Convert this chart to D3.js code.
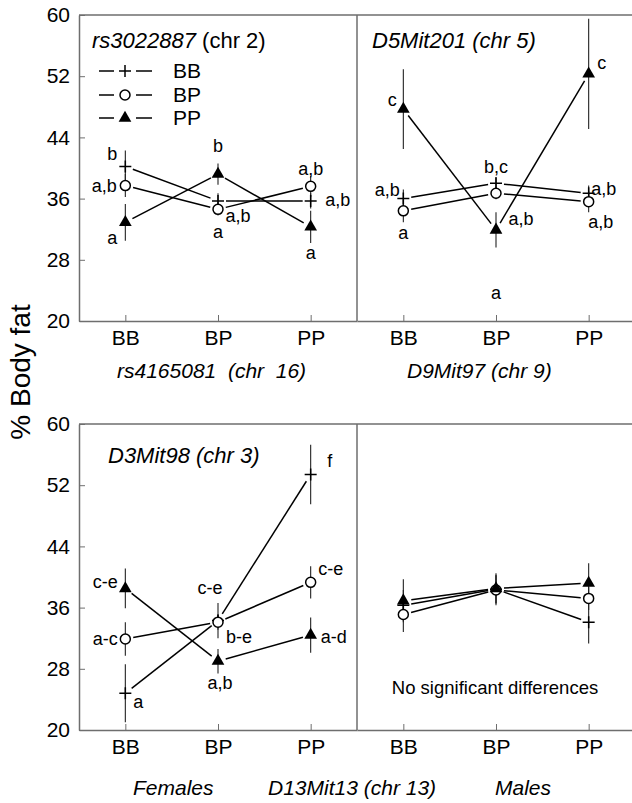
<!DOCTYPE html>
<html>
<head>
<meta charset="utf-8">
<script src="https://cdn.jsdelivr.net/npm/d3@7"></script>
<style>
body { margin: 0; background: #fff; }
svg { font-family: "Liberation Sans", Arial, sans-serif; }
</style>
</head>
<body>
<div class="container"></div>
<script>
// x categories and the three genotype series (+ BB, o BP, triangle PP)
var genotypes = ["BB", "BP", "PP"];
var seriesNames = ["BB", "BP", "PP"];
var yTicks = [20, 28, 36, 44, 52, 60];

// rs3022887 (chr 2) x rs4165081 (chr 16)
var rsMean = [[40.2, 35.7, 35.7], [37.7, 34.6, 37.6], [32.9, 39.2, 32.3]];
var rsSE   = [[2.1, 1.0, 1.0], [1.5, 0.8, 1.4], [2.4, 1.4, 2.1]];
var rsLetters = [["b", "a", "a,b"], ["a,b", "a,b", "a,b"], ["a", "b", "a"]];

// D5Mit201 (chr 5) x D9Mit97 (chr 9)
var d5Mean = [[36.0, 38.0, 36.7], [34.4, 36.7, 35.6], [47.7, 31.9, 52.3]];
var d5SE   = [[1.2, 0.8, 1.0], [1.5, 0.8, 1.4], [5.2, 2.3, 7.2]];
var d5Letters = [["a,b", "b,c", "a,b"], ["a", "a,b", "a,b"], ["c", "a", "c"]];

// D3Mit98 (chr 3) x D13Mit13 (chr 13), females
var femMean = [[24.8, 34.3, 53.4], [31.9, 34.1, 39.3], [38.5, 29.0, 32.4]];
var femSE   = [[3.8, 2.3, 3.9], [2.2, 1.0, 2.1], [2.6, 1.6, 2.3]];
var femLetters = [["a", "c-e", "f"], ["a-c", "b-e", "c-e"], ["c-e", "a,b", "a-d"]];

// D3Mit98 (chr 3) x D13Mit13 (chr 13), males
var maleMean = [[36.3, 38.4, 34.1], [35.1, 38.3, 37.2], [36.9, 38.5, 39.2]];
var maleSE   = [[2.0, 1.8, 2.8], [2.3, 2.0, 1.5], [2.8, 2.0, 2.6]];

var W = 632, H = 803;
var svg = d3.select(".container").append("svg")
  .attr("width", W)
  .attr("height", H);

var xLeft = d3.scalePoint().domain(genotypes).range([79, 357]).padding(0.5);
var xRight = d3.scalePoint().domain(genotypes).range([357, 635]).padding(0.5);
var yTop = d3.scaleLinear().domain([20, 60]).range([321, 15]);
var yBot = d3.scaleLinear().domain([20, 60]).range([730, 424]);

// label offsets (px) from each marker, [series][genotype]
var rsOff = [[[-13, -13], [0, 31], [27, -1]], [[-21, 0], [20, 6], [0, -18]], [[-13, 15], [0, -28], [0, 26]]];
var d5Off = [[[-16, -9], [0, -17], [15, -5]], [[0, 22], [25, 25], [12, 20]], [[-11, -9], [0, 63], [13, -11]]];
var femOff = [[[13, 8], [-8, -33], [19, -14]], [[-20, 0], [21, 15], [20, -14]], [[-20, -7], [2, 22], [23, 2]]];

var panels = [
  { x: xLeft, y: yTop, mean: rsMean, se: rsSE, letters: rsLetters, off: rsOff },
  { x: xRight, y: yTop, mean: d5Mean, se: d5SE, letters: d5Letters, off: d5Off },
  { x: xLeft, y: yBot, mean: femMean, se: femSE, letters: femLetters, off: femOff },
  { x: xRight, y: yBot, mean: maleMean, se: maleSE, letters: null, off: null }
];

var frameCol = "#6e6e6e";

// frames and axes
[yTop, yBot].forEach(function(y) {
  var r = y.range();
  svg.append("line").attr("x1", 79).attr("x2", W).attr("y1", r[1]).attr("y2", r[1])
    .attr("stroke", frameCol).attr("stroke-width", 1.5);
  svg.append("line").attr("x1", 357).attr("x2", 357).attr("y1", r[1]).attr("y2", r[0])
    .attr("stroke", frameCol).attr("stroke-width", 1.5);

  var ya = svg.append("g").attr("transform", "translate(79,0)")
    .call(d3.axisLeft(y).tickValues(yTicks).tickSize(-6).tickSizeOuter(0).tickPadding(9));
  ya.select(".domain").attr("stroke", frameCol).attr("stroke-width", 1.5);
  ya.selectAll(".tick line").attr("stroke", frameCol);
  ya.selectAll(".tick text").attr("font-size", 21).attr("fill", "#000")
    .style("font-family", "'Liberation Sans', Arial, sans-serif");

  [xLeft, xRight].forEach(function(x) {
    var xa = svg.append("g").attr("transform", "translate(0," + r[0] + ")")
      .call(d3.axisBottom(x).tickSize(-6).tickSizeOuter(0).tickPadding(9));
    xa.select(".domain").attr("stroke", frameCol).attr("stroke-width", 1.5);
    xa.selectAll(".tick line").attr("stroke", frameCol);
    xa.selectAll(".tick text").attr("font-size", 21).attr("fill", "#000")
      .style("font-family", "'Liberation Sans', Arial, sans-serif");
  });
});

var plusPath = "M-6,0H6M0,-6V6";
var tri = d3.symbol().type(d3.symbolTriangle).size(70)();

function drawMarker(g, s, px, py) {
  if (s == 0) {
    g.append("path").attr("d", plusPath).attr("transform", "translate(" + px + "," + py + ")")
      .attr("stroke", "#000").attr("stroke-width", 1.5).attr("fill", "none");
  } else if (s == 1) {
    g.append("circle").attr("cx", px).attr("cy", py).attr("r", 5)
      .attr("fill", "#fff").attr("stroke", "#000").attr("stroke-width", 1.5);
  } else {
    g.append("path").attr("d", tri).attr("transform", "translate(" + px + "," + py + ")")
      .attr("fill", "#000");
  }
}

panels.forEach(function(p) {
  var g = svg.append("g");
  p.mean.forEach(function(row, s) {
    // error bars
    row.forEach(function(m, i) {
      var px = p.x(genotypes[i]);
      g.append("line").attr("x1", px).attr("x2", px)
        .attr("y1", p.y(m - p.se[s][i])).attr("y2", p.y(m + p.se[s][i]))
        .attr("stroke", "#222").attr("stroke-width", 1.1);
    });
    // connectors, trimmed short of the markers
    for (var i = 0; i < row.length - 1; i++) {
      var x1 = p.x(genotypes[i]), y1 = p.y(row[i]);
      var x2 = p.x(genotypes[i + 1]), y2 = p.y(row[i + 1]);
      var len = Math.sqrt((x2 - x1) * (x2 - x1) + (y2 - y1) * (y2 - y1));
      var ux = (x2 - x1) / len, uy = (y2 - y1) / len, t = 8;
      g.append("line")
        .attr("x1", x1 + ux * t).attr("y1", y1 + uy * t)
        .attr("x2", x2 - ux * t).attr("y2", y2 - uy * t)
        .attr("stroke", "#000").attr("stroke-width", 1.5);
    }
  });
  p.mean.forEach(function(row, s) {
    row.forEach(function(m, i) {
      drawMarker(g, s, p.x(genotypes[i]), p.y(m));
    });
  });
  if (p.letters) {
    p.letters.forEach(function(row, s) {
      row.forEach(function(txt, i) {
        g.append("text")
          .attr("x", p.x(genotypes[i]) + p.off[s][i][0])
          .attr("y", p.y(p.mean[s][i]) + p.off[s][i][1])
          .attr("dy", "0.35em")
          .attr("text-anchor", "middle")
          .attr("font-size", 18)
          .text(txt);
      });
    });
  }
});

// legend
var lg = svg.append("g");
seriesNames.forEach(function(name, s) {
  var ly = [71, 95, 118][s];
  lg.append("line").attr("x1", 99).attr("x2", 114).attr("y1", ly).attr("y2", ly)
    .attr("stroke", "#000").attr("stroke-width", 1.5);
  lg.append("line").attr("x1", 136).attr("x2", 152).attr("y1", ly).attr("y2", ly)
    .attr("stroke", "#000").attr("stroke-width", 1.5);
  drawMarker(lg, s, 125, ly);
  lg.append("text").attr("x", 173).attr("y", ly).attr("dy", "0.35em")
    .attr("font-size", 21).text(name);
});

// panel titles
var t1 = svg.append("text").attr("x", 92).attr("y", 48).attr("font-size", 22);
t1.append("tspan").attr("font-style", "italic").text("rs3022887");
t1.append("tspan").text(" (chr 2)");
svg.append("text").attr("x", 372).attr("y", 48).attr("font-size", 22)
  .attr("font-style", "italic").text("D5Mit201 (chr 5)");
svg.append("text").attr("x", 108).attr("y", 463).attr("font-size", 22)
  .attr("font-style", "italic").text("D3Mit98 (chr 3)");
svg.append("text").attr("x", 495).attr("y", 688).attr("dy", "0.35em")
  .attr("text-anchor", "middle").attr("font-size", 18.5).text("No significant differences");

// x titles
function xTitle(x, y, txt) {
  svg.append("text").attr("x", x).attr("y", y).attr("dy", "0.35em")
    .attr("font-size", 21).attr("font-style", "italic")
    .style("white-space", "pre").text(txt);
}
xTitle(117, 371, "rs4165081  (chr  16)");
xTitle(407, 371, "D9Mit97 (chr 9)");
xTitle(133, 788, "Females");
xTitle(268, 788, "D13Mit13 (chr 13)");
xTitle(495, 788, "Males");

// y title
svg.append("text")
  .attr("transform", "translate(20,372) rotate(-90)")
  .attr("text-anchor", "middle")
  .attr("dy", "0.35em")
  .attr("font-size", 28)
  .text("% Body fat");
</script>
</body>
</html>
